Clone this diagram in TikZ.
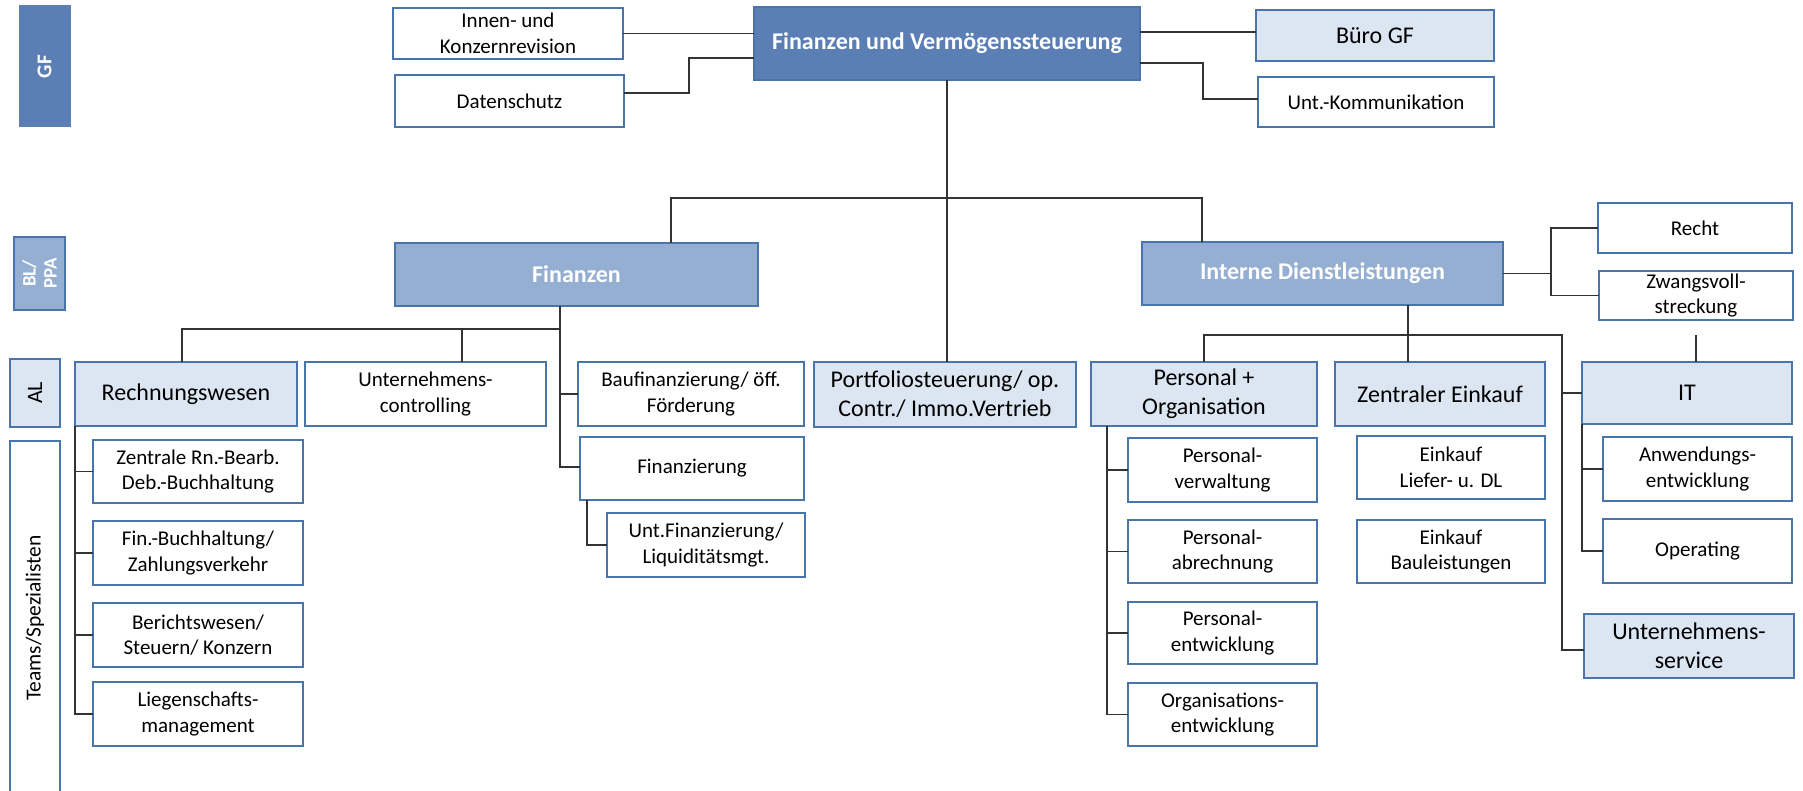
\documentclass[tikz,border=0pt]{standalone}
\usepackage{fontspec}
\setmainfont{Carlito}
\definecolor{darkc}{HTML}{5B7FB4}
\definecolor{midc}{HTML}{95AFD2}
\definecolor{lightc}{HTML}{DCE6F2}
\definecolor{bordc}{HTML}{4A75AB}
\definecolor{linec}{HTML}{333333}
\newcommand\smlfont{\fontsize{21}{25.6}\selectfont}
\newcommand\lrgfont{\fontsize{24}{29.3}\selectfont}
\newcommand\bx[7]{%
  \pgfmathsetmacro\bxW{#5-#3}\pgfmathsetmacro\bxH{#6-#4}%
  \pgfmathsetmacro\bxX{(#3+#5)/2}\pgfmathsetmacro\bxY{(#4+#6)/2}%
  \node[#1, minimum width=\bxW pt, minimum height=\bxH pt] (#2) at (\bxX,\bxY) {#7};}
\tikzset{
  box/.style={draw=bordc, line width=2.8pt, inner sep=1pt, outer sep=0pt, align=center, text=black},
  wbox/.style={box, fill=white, font=\smlfont},
  lbox/.style={box, fill=lightc, font=\lrgfont},
  dbox/.style={box, fill=darkc, text=white, font=\lrgfont\bfseries},
  mbox/.style={box, fill=midc, text=white, font=\lrgfont\bfseries},
  conn/.style={draw=linec, line width=1.6pt},
}
\begin{document}
\begin{tikzpicture}[x=1pt, y=-1pt]
\useasboundingbox (0,0) rectangle (1803,791);
% level labels
\node[box, draw=darkc, line width=1pt, fill=darkc, text=white, font=\fontsize{21}{24}\selectfont\bfseries, rotate=90, minimum width=121pt, minimum height=51pt] (lgf) at (44.5,66.5) {GF};
\node[box, fill=midc, text=white, font=\fontsize{19}{21}\selectfont\bfseries, rotate=90, minimum width=73pt, minimum height=51pt] (lbl) at (39.5,273.5) {BL/\\PPA};
\node[box, fill=lightc, font=\fontsize{22}{26}\selectfont, rotate=90, minimum width=68pt, minimum height=50pt] (lal) at (35,393) {AL};
\node[box, fill=white, font=\fontsize{21.5}{25}\selectfont, rotate=90, minimum width=354pt, minimum height=50pt] (lteam) at (35,618) {Teams/Spezialisten};
% top level
\bx{dbox}{top}{754}{7}{1140}{80}{Finanzen und Vermögenssteuerung}
\bx{wbox}{innen}{393}{8}{623}{59}{Innen- und\\Konzernrevision}
\bx{wbox}{daten}{395}{75}{624}{127}{Datenschutz}
\bx{lbox}{buero}{1256}{10}{1494}{61}{Büro GF}
\bx{wbox}{ukom}{1258}{77}{1494}{127}{Unt.-Kommunikation}
% BL level
\bx{mbox}{fin}{395}{243}{758}{306}{Finanzen}
\bx{mbox}{intern}{1142}{242}{1503}{305}{Interne Dienstleistungen}
\bx{wbox}{recht}{1598}{203}{1792}{253}{Recht}
\bx{wbox}{zw}{1599}{271}{1793}{320}{Zwangsvoll-\\streckung}
% AL level
\bx{lbox}{rw}{75}{362}{297}{426}{Rechnungswesen}
\bx{wbox}{uc}{305}{362}{546}{426}{Unternehmens-\\controlling}
\bx{wbox}{bauf}{578}{362}{804}{426}{Baufinanzierung/ öff.\\Förderung}
\bx{lbox}{portf}{814}{362}{1076}{427}{Portfoliosteuerung/ op.\\Contr./ Immo.Vertrieb}
\bx{lbox}{po}{1091}{362}{1317}{426}{Personal +\\Organisation}
\bx{lbox}{ze}{1335}{362}{1545}{426}{Zentraler Einkauf}
\bx{lbox}{it}{1582}{362}{1792}{424}{IT}
% teams
\bx{wbox}{fiz}{580}{437}{804}{500}{Finanzierung}
\bx{wbox}{ufin}{607}{513}{805}{577}{Unt.Finanzierung/\\Liquiditätsmgt.}
\bx{wbox}{zrb}{93}{440}{303}{503}{Zentrale Rn.-Bearb.\\Deb.-Buchhaltung}
\bx{wbox}{fbh}{93}{521}{303}{585}{Fin.-Buchhaltung/\\Zahlungsverkehr}
\bx{wbox}{ber}{93}{603}{303}{667}{Berichtswesen/\\Steuern/ Konzern}
\bx{wbox}{lieg}{93}{682}{303}{746}{Liegenschafts-\\management}
\bx{wbox}{pv}{1128}{438}{1317}{502}{Personal-\\verwaltung}
\bx{wbox}{pa}{1128}{520}{1317}{583}{Personal-\\abrechnung}
\bx{wbox}{pe}{1128}{602}{1317}{664}{Personal-\\entwicklung}
\bx{wbox}{oe}{1128}{683}{1317}{746}{Organisations-\\entwicklung}
\bx{wbox}{ekl}{1357}{436}{1545}{499}{Einkauf\\Liefer- u. DL}
\bx{wbox}{ekb}{1357}{520}{1545}{583}{Einkauf\\Bauleistungen}
\bx{wbox}{anw}{1603}{437}{1792}{501}{Anwendungs-\\entwicklung}
\bx{wbox}{opr}{1603}{519}{1792}{583}{Operating}
\bx{lbox}{us}{1584}{614}{1794}{678}{Unternehmens-\\service}
% connectors top
\draw[conn] (innen.east) -- (innen.east -| top.west);
\draw[conn] (daten.east |- 0,93) -- (689,93) |- (top.west |- 0,58);
\draw[conn] (top.east |- 0,32) -- (buero.west |- 0,32);
\draw[conn] (top.east |- 0,63) -- (1203,63) |- (ukom.west |- 0,99);
\draw[conn] (top.south) -- (top.south |- portf.north);
\draw[conn] (fin.north -| 671,0) |- (1202,198) -- (intern.north -| 1202,0);
% Finanzen subtree
\draw[conn] (fin.south -| 560,0) -- (560,467) -- (fiz.west |- 0,467);
\draw[conn] (rw.north -| 182,0) |- (560,329);
\draw[conn] (uc.north -| 462,0) -- (462,329);
\draw[conn] (bauf.west -| 560,0) -- (bauf.west);
\draw[conn] (fiz.south -| 587,0) |- (ufin.west);
% Rechnungswesen subtree
\draw[conn] (rw.south west) -- (rw.south west |- lieg.west) -- (lieg.west);
\draw[conn] (zrb.west -| rw.south west) -- (zrb.west);
\draw[conn] (fbh.west -| rw.south west) -- (fbh.west);
\draw[conn] (ber.west -| rw.south west) -- (ber.west);
% Interne subtree
\draw[conn] (intern.east) -- (intern.east -| 1551,0);
\draw[conn] (recht.west) -- (recht.west -| 1551,0) -- (zw.west -| 1551,0) -- (zw.west);
\draw[conn] (intern.south -| 1408,0) -- (ze.north -| 1408,0);
\draw[conn] (po.north -| 1204,0) |- (1562,335) -- (1562,650) -- (us.west |- 0,650);
\draw[conn] (it.west -| 1562,0) -- (it.west);
\coordinate (itstub) at (1696,335);
\draw[conn] (itstub) -- (it.north -| itstub);
% Personal subtree
\draw[conn] (po.south -| 1107,0) -- (oe.west -| 1107,0) -- (oe.west);
\draw[conn] (pv.west -| 1107,0) -- (pv.west);
\draw[conn] (pa.west -| 1107,0) -- (pa.west);
\draw[conn] (pe.west -| 1107,0) -- (pe.west);
% IT subtree
\draw[conn] (it.south west) -- (it.south west |- opr.west) -- (opr.west);
\draw[conn] (anw.west -| it.south west) -- (anw.west);
\end{tikzpicture}
\end{document}
